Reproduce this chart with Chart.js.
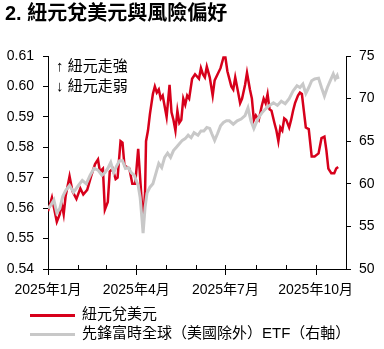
<!DOCTYPE html>
<html>
<head>
<meta charset="utf-8">
<script src="https://cdn.jsdelivr.net/npm/chart.js@4"></script>
<style>
	body { margin: 0; background: #fff; }
	#wrap { position: relative; width: 384px; height: 349px; font-family: 'Liberation Sans', 'Noto Sans CJK TC', sans-serif; color: #000; }
	#title { position: absolute; left: 5px; top: 0px; font-size: 20px; font-weight: bold; line-height: 26px; white-space: nowrap; }
	.leg { position: absolute; left: 30px; font-size: 15px; line-height: 18px; white-space: nowrap; }
	.leg span { display: inline-block; width: 45px; height: 3px; vertical-align: middle; margin-right: 7px; }
</style>
</head>
<body>
<div id="wrap">
	<canvas id="chart" width="384" height="349"></canvas>
	<div id="title">2. 紐元兌美元與風險偏好</div>
	<div class="leg" style="top: 305px"><span style="background:#d7001b"></span>紐元兌美元</div>
	<div class="leg" style="top: 324px"><span style="background:#c8c8c8"></span>先鋒富時全球（美國除外）ETF（右軸）</div>
</div>
<script>
// days since 2025-01-01
const nzdDays = [0, 4, 9, 12, 14, 16, 18, 22, 25, 29, 33, 36, 40, 44, 48, 51, 53, 56, 58, 61, 63, 66, 69, 71, 74, 76, 78, 83, 86, 89, 92, 94, 97, 99, 100, 102, 104, 107, 109, 111, 113, 115, 117, 119, 121, 124, 126, 128, 130, 132, 134, 136, 138, 140, 142, 144, 147, 150, 154, 156, 158, 160, 162, 165, 168, 170, 173, 176, 179, 181, 183, 187, 189, 191, 194, 196, 198, 201, 203, 206, 208, 210, 212, 215, 218, 220, 222, 224, 226, 228, 231, 233, 235, 237, 239, 241, 243, 246, 248, 250, 252, 255, 257, 259, 261, 263, 266, 269, 272, 276, 279, 282, 284, 286, 289, 292, 294, 296]
const nzdValues = [0.559, 0.5635, 0.5555, 0.558, 0.5615, 0.558, 0.564, 0.5705, 0.5655, 0.563, 0.5665, 0.5645, 0.566, 0.5705, 0.5745, 0.576, 0.572, 0.573, 0.5595, 0.562, 0.572, 0.573, 0.5695, 0.570, 0.582, 0.5815, 0.574, 0.573, 0.568, 0.568, 0.5795, 0.570, 0.5555, 0.565, 0.582, 0.5855, 0.591, 0.5975, 0.600, 0.598, 0.599, 0.596, 0.597, 0.5935, 0.590, 0.6005, 0.5915, 0.589, 0.5855, 0.592, 0.588, 0.589, 0.596, 0.594, 0.597, 0.596, 0.6025, 0.604, 0.6025, 0.606, 0.604, 0.603, 0.6065, 0.603, 0.597, 0.602, 0.604, 0.606, 0.6095, 0.6095, 0.605, 0.600, 0.599, 0.603, 0.598, 0.5945, 0.596, 0.6005, 0.6045, 0.599, 0.596, 0.589, 0.5905, 0.589, 0.5935, 0.596, 0.5945, 0.5975, 0.5925, 0.592, 0.588, 0.5855, 0.582, 0.5865, 0.5855, 0.5895, 0.589, 0.5865, 0.589, 0.592, 0.5945, 0.597, 0.598, 0.5975, 0.592, 0.5865, 0.586, 0.577, 0.577, 0.578, 0.583, 0.5835, 0.579, 0.573, 0.5715, 0.5715, 0.573, 0.5735]

const etfDays = [0, 3, 6, 9, 12, 15, 18, 22, 26, 31, 35, 39, 43, 47, 51, 55, 58, 61, 64, 67, 70, 73, 76, 79, 82, 85, 88, 92, 94, 96, 97, 99, 101, 104, 107, 110, 113, 116, 119, 122, 125, 128, 131, 134, 137, 140, 143, 146, 149, 153, 156, 159, 162, 165, 167, 170, 173, 176, 179, 182, 185, 189, 193, 197, 201, 204, 207, 210, 214, 218, 222, 226, 230, 234, 238, 242, 246, 250, 254, 257, 260, 263, 266, 269, 272, 276, 279, 282, 285, 288, 291, 293, 295, 296]
const etfValues = [57.1, 57.5, 58.1, 56.6, 57.1, 58.5, 59.2, 59.8, 59.0, 59.8, 60.4, 60.0, 61.0, 61.8, 61.6, 61.0, 61.3, 61.8, 62.5, 61.3, 62.1, 62.7, 62.7, 61.8, 61.9, 61.3, 61.0, 59.8, 58.4, 55.7, 54.2, 57.2, 58.9, 59.6, 60.0, 61.2, 62.4, 61.9, 63.1, 63.6, 63.1, 63.9, 64.3, 64.7, 65.1, 65.3, 65.7, 65.4, 66.0, 65.7, 66.2, 66.2, 66.6, 66.5, 65.9, 65.1, 65.9, 66.8, 67.2, 67.4, 67.4, 67.0, 67.4, 67.6, 68.0, 68.9, 67.4, 66.5, 67.6, 68.3, 68.8, 69.2, 69.5, 69.2, 69.7, 69.4, 70.0, 70.9, 71.5, 71.3, 71.7, 70.6, 71.3, 72.1, 72.3, 72.4, 71.3, 70.3, 71.3, 72.1, 72.9, 72.3, 72.7, 72.3]

// month starts, days since 2025-01-01
const monthStarts = [0, 31, 59, 90, 120, 151, 181, 212, 243, 273, 304]
const monthLabels = ['2025年1月', '', '', '2025年4月', '', '', '2025年7月', '', '', '2025年10月', '']

const font = "'Liberation Sans', 'Noto Sans CJK TC', sans-serif"

const xTickMarks = {
	id: 'xTickMarks',
	afterDraw(chart) {
		const ctx = chart.ctx
		const x = chart.scales.x
		const y0 = x.top
		ctx.save()
		ctx.strokeStyle = '#000'
		ctx.lineWidth = 1
		ctx.beginPath()
		monthStarts.forEach((d, i) => {
			const px = Math.round(x.getPixelForValue(d)) + 0.5
			ctx.moveTo(px, y0 - 4)
			ctx.lineTo(px, monthLabels[i] ? y0 + 6 : y0)
		})
		ctx.stroke()
		ctx.restore()
	},
}

const noteText = {
	id: 'noteText',
	afterDraw(chart) {
		const ctx = chart.ctx
		const a = chart.chartArea
		ctx.save()
		ctx.fillStyle = '#000'
		ctx.font = '15px ' + font
		ctx.textBaseline = 'middle'
		ctx.fillText('↑ 紐元走強', a.left + 8, a.top + 11)
		ctx.fillText('↓ 紐元走弱', a.left + 8, a.top + 31)
		ctx.restore()
	},
}

new Chart(document.getElementById('chart'), {
	type: 'line',
	data: {
		datasets: [
			{
				label: '先鋒富時全球（美國除外）ETF（右軸）',
				data: etfDays.map((d, i) => ({ x: d, y: etfValues[i] })),
				yAxisID: 'y1',
				borderColor: '#c8c8c8',
				borderWidth: 3,
				pointRadius: 0,
				tension: 0,
			},
			{
				label: '紐元兌美元',
				data: nzdDays.map((d, i) => ({ x: d, y: nzdValues[i] })),
				yAxisID: 'y',
				borderColor: '#d7001b',
				borderWidth: 2.5,
				pointRadius: 0,
				tension: 0,
			},
		],
	},
	options: {
		responsive: false,
		animation: false,
		devicePixelRatio: 1,
		layout: { padding: { top: 56, left: 0, right: 0, bottom: 0 } },
		plugins: { legend: { display: false }, tooltip: { enabled: false }, title: { display: false } },
		scales: {
			x: {
				type: 'linear',
				min: 0,
				max: 304,
				afterBuildTicks: scale => {
					scale.ticks = monthStarts.map(v => ({ value: v }))
				},
				afterFit: scale => {
					scale.height = 80
				},
				ticks: {
					autoSkip: false,
					maxRotation: 0,
					padding: 13,
					color: '#000',
					font: { family: font, size: 14 },
					callback: (v) => monthLabels[monthStarts.indexOf(v)] || '',
				},
				grid: { display: false, drawTicks: false },
				border: { display: true, color: '#000', width: 1 },
			},
			y: {
				position: 'left',
				min: 0.54,
				max: 0.61,
				afterBuildTicks: scale => {
					scale.ticks = [0.54, 0.55, 0.56, 0.57, 0.58, 0.59, 0.60, 0.61].map(v => ({ value: v }))
				},
				afterFit: scale => {
					scale.width = 48
				},
				ticks: {
					padding: 9,
					color: '#000',
					font: { family: font, size: 14 },
					callback: v => v.toFixed(2),
				},
				grid: { drawOnChartArea: false, tickLength: 5, color: '#000' },
				border: { color: '#000', width: 1 },
			},
			y1: {
				position: 'right',
				min: 50,
				max: 75,
				ticks: {
					stepSize: 5,
					padding: 8,
					color: '#000',
					font: { family: font, size: 14 },
				},
				afterFit: scale => {
					scale.width = 38
				},
				grid: { drawOnChartArea: false, tickLength: 5, color: '#000' },
				border: { color: '#000', width: 1 },
			},
		},
	},
	plugins: [xTickMarks, noteText],
})
</script>
</body>
</html>
